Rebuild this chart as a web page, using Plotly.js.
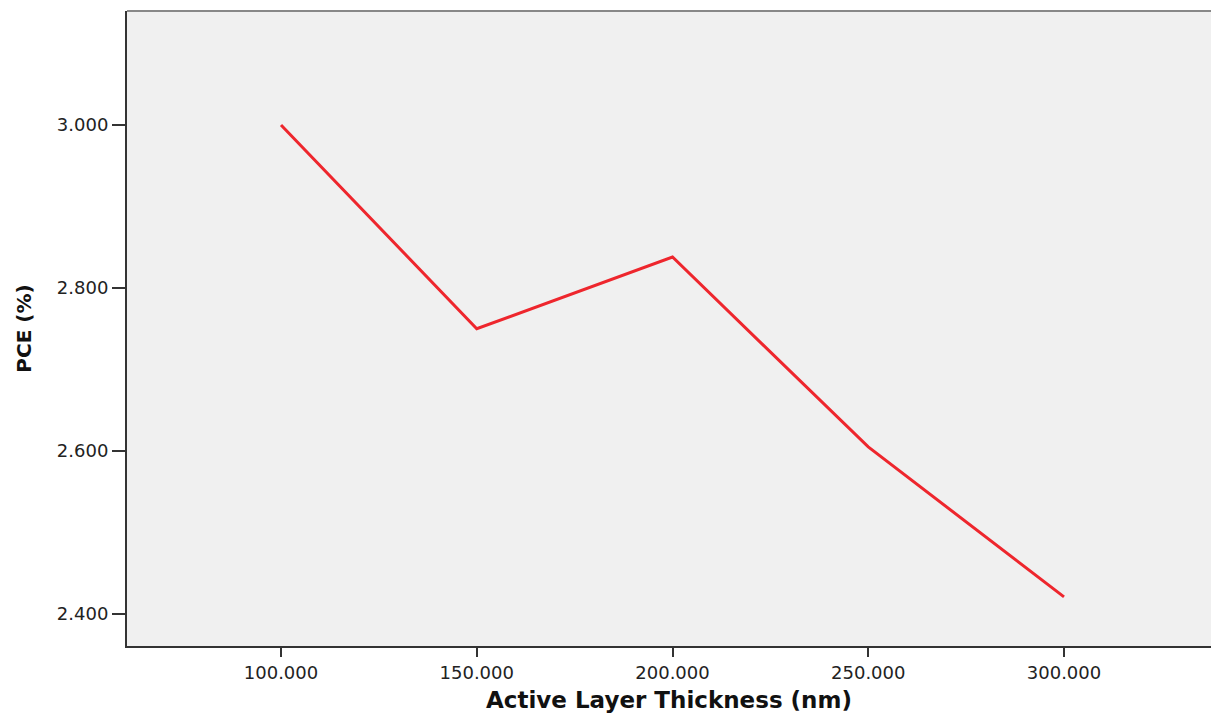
<!DOCTYPE html>
<html>
<head>
<meta charset="utf-8">
<script src="https://cdn.plot.ly/plotly-3.0.1.min.js"></script>
<style>html,body{margin:0;padding:0;background:#fff;overflow:hidden}#chart{width:1211px;height:713px}</style>
</head>
<body>
<div id="chart"></div>
<script>
var thickness = [100, 150, 200, 250, 300];
var pce = [3.000, 2.750, 2.838, 2.605, 2.421];
var xTicks = [100, 150, 200, 250, 300];
var yTicks = [2.4, 2.6, 2.8, 3.0];

var trace = {
  x: thickness,
  y: pce,
  type: 'scatter',
  mode: 'lines',
  line: {color: 'rgb(238,38,45)', width: 3},
  hoverinfo: 'x+y'
};

var tickFont = {family: 'DejaVu Sans, sans-serif', size: 18, color: '#222'};

var layout = {
  width: 1211,
  height: 713,
  margin: {l: 127, r: 0, t: 11, b: 67},
  paper_bgcolor: '#ffffff',
  plot_bgcolor: '#f0f0f0',
  showlegend: false,
  xaxis: {
    range: [60.66, 337.55],
    tickvals: xTicks,
    tickformat: '.3f',
    ticks: 'outside',
    ticklen: 9,
    tickwidth: 2,
    tickcolor: '#333',
    showline: true,
    linecolor: '#333',
    linewidth: 2,
    showgrid: false,
    zeroline: false,
    tickfont: tickFont,
    title: {text: 'Active Layer Thickness (nm)', font: {family: 'DejaVu Sans, sans-serif', size: 23, color: '#111', weight: 'bold'}, standoff: 10}
  },
  yaxis: {
    range: [2.3607, 3.1399],
    tickvals: yTicks,
    tickformat: '.3f',
    ticks: 'outside',
    ticklen: 13,
    tickwidth: 2,
    tickcolor: '#333',
    showline: true,
    linecolor: '#333',
    linewidth: 2,
    showgrid: false,
    zeroline: false,
    tickfont: tickFont,
    title: {text: 'PCE (%)', font: {family: 'DejaVu Sans, sans-serif', size: 20, color: '#111', weight: 'bold'}, standoff: 20}
  },
  shapes: [{
    type: 'line', xref: 'paper', yref: 'paper',
    x0: 0, x1: 1, y0: 1, y1: 1,
    line: {color: '#888', width: 2}
  }]
};

Plotly.newPlot('chart', [trace], layout, {displayModeBar: false, responsive: false});
</script>
</body>
</html>
